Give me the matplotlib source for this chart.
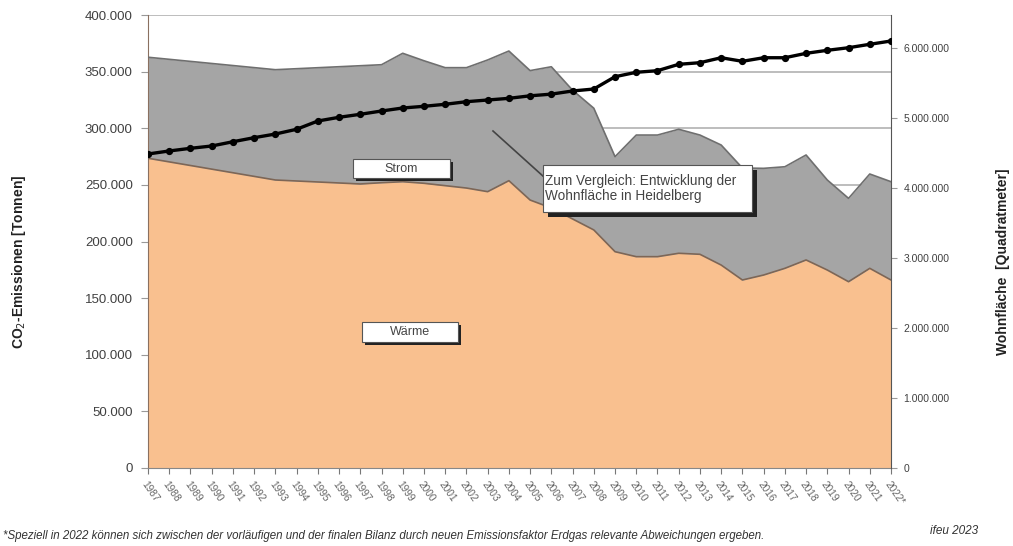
import matplotlib
matplotlib.use("Agg")
import matplotlib.pyplot as plt
from matplotlib.patches import Rectangle
from matplotlib.lines import Line2D
from matplotlib.ticker import FuncFormatter, MultipleLocator

plt.rcParams['font.family'] = ['Liberation Sans', 'DejaVu Sans']

# ---- data ----
years_em = [1987, 1993, 1997, 1998, 1999, 2000, 2001, 2002, 2003, 2004, 2005, 2006,
            2007, 2008, 2009, 2010, 2011, 2012, 2013, 2014, 2015, 2016, 2017, 2018,
            2019, 2020, 2021, 2022]
waerme = [273500, 254300, 250800, 251900, 252800, 251400, 249300, 247200, 244000,
          253700, 236600, 229600, 219900, 210200, 191000, 186600, 186600, 189600,
          188700, 179200, 166000, 170400, 176300, 183700, 174800, 164500, 176300, 166000]
strom = [89200, 97400, 104400, 104200, 113400, 108200, 104200, 106300, 116300,
         114500, 114300, 124700, 113700, 107500, 83900, 107400, 107400, 109500,
         105300, 106000, 98900, 94200, 89700, 92700, 79500, 73600, 83300, 86800]

years_wf = list(range(1987, 2023))
wohnflaeche = [4486000, 4529000, 4567000, 4600000, 4661000, 4719000, 4771000, 4839000,
               4957000, 5010000, 5053000, 5100000, 5143000, 5167000, 5196000, 5233000,
               5257000, 5281000, 5317000, 5341000, 5386000, 5414000, 5590000, 5653000,
               5676000, 5767000, 5790000, 5861000, 5810000, 5861000, 5861000, 5924000,
               5967000, 6004000, 6053000, 6100000]
year_labels = [str(y) for y in years_wf[:-1]] + ["2022*"]

# ---- figure ----
W, H = 1013, 546
fig = plt.figure(figsize=(W / 100, H / 100), dpi=100)
ax = fig.add_axes([148 / W, 1 - 468 / H, (891 - 148) / W, (468 - 15) / H])

def px(x, y):
    return (x / W, 1 - y / H)

total = [w + s for w, s in zip(waerme, strom)]
ax.fill_between(years_em, 0, waerme, color='#F9C08F', zorder=2, lw=0)
ax.fill_between(years_em, waerme, total, color='#A5A5A5', zorder=2, lw=0)
ax.plot(years_em, waerme, color='#7d6656', lw=1.2, zorder=3)
ax.plot(years_em, total, color='#6f6f6f', lw=1.2, zorder=3)

ax.set_xlim(1987, 2022)
ax.set_ylim(0, 400000)
ax.yaxis.set_major_locator(MultipleLocator(50000))
ax.yaxis.set_major_formatter(FuncFormatter(lambda v, p: f"{int(v):,}".replace(",", ".")))
ax.grid(axis='y', color='#bdbdbd', lw=1.4, zorder=0)
ax.set_axisbelow(True)
ax.set_xticks(years_wf)
ax.set_xticklabels(year_labels, rotation=-55, ha='left', va='top',
                   rotation_mode='anchor', fontsize=7.3, color='#666666')
ax.tick_params(axis='x', length=4, color='#777777', pad=4)
ax.tick_params(axis='y', length=5, color='#999999', labelsize=9.5,
               labelcolor='#404040', pad=6)
ax.spines['top'].set_visible(False)
ax.spines['left'].set_color('#8a7060')
ax.spines['bottom'].set_color('#888888')
ax.spines['right'].set_visible(False)

ax2 = ax.twinx()
ax2.plot(years_wf, wohnflaeche, color='black', lw=2.4, marker='o', ms=4.2, zorder=5)
ax2.set_ylim(0, 453 / 70 * 1e6)
ax2.set_yticks([0, 1e6, 2e6, 3e6, 4e6, 5e6, 6e6])
ax2.yaxis.set_major_formatter(FuncFormatter(lambda v, p: f"{int(v):,}".replace(",", ".")))
ax2.tick_params(axis='y', length=4, color='#999999', labelsize=7.5,
                labelcolor='#404040', pad=5)
ax2.spines['right'].set_color('#555555')
ax2.spines['top'].set_visible(False)
ax2.spines['left'].set_visible(False)
ax2.spines['bottom'].set_visible(False)

# axis titles
fig.text(*px(19, 262), "CO$_2$-Emissionen [Tonnen]", rotation=90, ha='center',
         va='center', fontsize=10, fontweight='bold', color='#222222')
fig.text(*px(1003, 262), "Wohnfläche  [Quadratmeter]", rotation=90, ha='center',
         va='center', fontsize=10, fontweight='bold', color='#222222')

# annotation line
fig.add_artist(Line2D([493 / W, 544 / W], [1 - 131 / H, 1 - 177 / H],
                      color='#444444', lw=1.2, transform=fig.transFigure, zorder=6))

def box(x0, y0, x1, y1, text, sh=3, ha='center', fs=9, tx=None, zorder=7):
    fig.add_artist(Rectangle(px(x0 + sh, y1 + sh), (x1 - x0) / W, (y1 - y0) / H,
                             transform=fig.transFigure, facecolor='#222222',
                             edgecolor='none', zorder=zorder))
    fig.add_artist(Rectangle(px(x0, y1), (x1 - x0) / W, (y1 - y0) / H,
                             transform=fig.transFigure, facecolor='white',
                             edgecolor='#555555', lw=0.8, zorder=zorder + 0.1))
    if ha == 'center':
        fig.text(*px((x0 + x1) / 2, (y0 + y1) / 2), text, ha='center', va='center',
                 fontsize=fs, color='#444444', zorder=zorder + 0.2)
    else:
        fig.text(*px(tx, (y0 + y1) / 2), text, ha='left', va='center',
                 fontsize=fs, color='#444444', zorder=zorder + 0.2, linespacing=1.1)

box(353, 159, 450, 178, "Strom")
box(362, 322, 458, 342, "Wärme")
box(543, 165, 752, 212, "Zum Vergleich: Entwicklung der\nWohnfläche in Heidelberg",
    sh=5, ha='left', fs=9.8, tx=545)

fig.text(*px(3, 536), "*Speziell in 2022 können sich zwischen der vorläufigen und der finalen "
         "Bilanz durch neuen Emissionsfaktor Erdgas relevante Abweichungen ergeben.",
         ha='left', va='center', fontsize=8.3, style='italic', color='#333333')
fig.text(*px(930, 531), "ifeu 2023", ha='left', va='center', fontsize=8.5,
         style='italic', color='#333333')

fig.savefig("out.png", dpi=100)
